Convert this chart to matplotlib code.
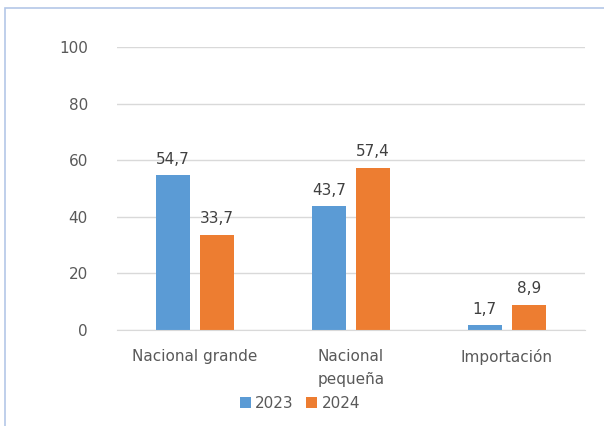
import matplotlib.pyplot as plt
import numpy as np
from matplotlib.patches import Rectangle

categorias = ['Nacional grande', 'Nacional\npequeña', 'Importación']
anios = ['2023', '2024']
v2023 = [54.7, 43.7, 1.7]
v2024 = [33.7, 57.4, 8.9]

azul = '#5B9BD5'
naranja = '#ED7D31'
gris = '#595959'

fig = plt.figure(figsize=(6.04, 4.26), dpi=100)
# marco exterior
fig.patches.append(Rectangle((5/604, -0.1), 700/604, (426-8)/426 + 0.1,
                             transform=fig.transFigure, fill=False,
                             edgecolor='#B4C7E7', lw=1.2))
ax = fig.add_axes([117/604, (426-330)/426, 468/604, (330-47)/426])

x = np.arange(len(categorias))
w = 0.22
b1 = ax.bar(x - 0.142, v2023, w, color=azul, label=anios[0])
b2 = ax.bar(x + 0.142, v2024, w, color=naranja, label=anios[1])

for barras in (b1, b2):
    for b in barras:
        h = b.get_height()
        ax.text(b.get_x() + b.get_width()/2, h + 3, f'{h:.1f}'.replace('.', ','),
                ha='center', va='bottom', fontsize=11, color='#404040')

ax.set_ylim(0, 100)
ax.set_xlim(-0.5, 2.5)
ax.set_yticks(range(0, 101, 20))
ax.yaxis.grid(True, color='#D9D9D9', lw=1)
ax.set_axisbelow(True)
for s in ax.spines.values():
    s.set_visible(False)
ax.spines['bottom'].set_visible(True)
ax.spines['bottom'].set_color('#D9D9D9')
ax.tick_params(length=0, labelsize=11, colors=gris)
ax.tick_params(axis='y', pad=21)
ax.tick_params(axis='x', pad=14)
ax.set_xticks(x)
ax.set_xticklabels(categorias, fontsize=11, color=gris, va='top', linespacing=1.6)

ax.legend(loc='center', bbox_to_anchor=(300/604, (426-403)/426),
          bbox_transform=fig.transFigure, ncol=2, frameon=False,
          fontsize=11, handlelength=0.7, handleheight=0.7,
          columnspacing=0.8, handletextpad=0.3, labelcolor=gris)

fig.savefig('out.png', dpi=100)
